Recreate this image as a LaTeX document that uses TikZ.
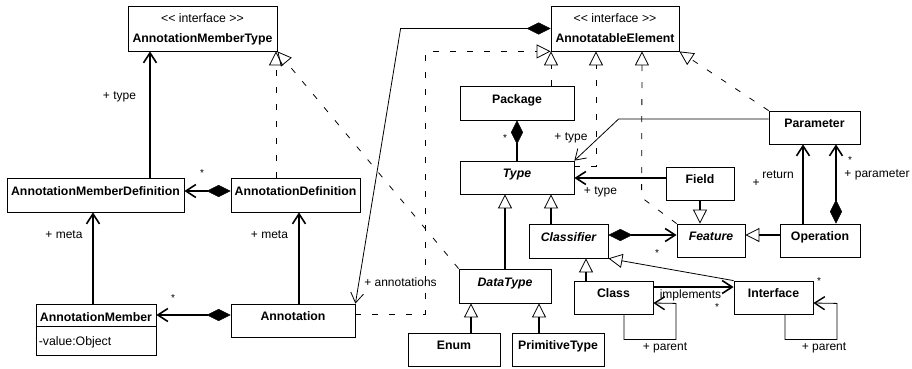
\documentclass[tikz,border=0pt]{standalone}
\usepackage{fontspec}
\setmainfont{Liberation Sans}
\usetikzlibrary{arrows.meta}

\tikzset{
  bx/.style={draw, line width=0.8pt, inner sep=0pt, text height=4pt, text depth=4pt,
    font=\fontsize{12.3}{14}\selectfont\bfseries},
  abs/.style={bx, font=\fontsize{12.3}{14}\selectfont\bfseries\itshape},
  plainbx/.style={draw, line width=0.8pt, inner sep=0pt},
  txt/.style={inner sep=0pt, font=\fontsize{12.3}{14}\selectfont},
  lbl/.style={inner sep=0pt, font=\fontsize{12}{14}\selectfont},
  star/.style={inner sep=0pt, font=\fontsize{10}{12}\selectfont},
  thk/.style={line width=1.6pt},
  thn/.style={line width=0.8pt},
  assoc/.style={thk, -{Straight Barb[length=10pt,width=13pt]}},
  assocthin/.style={thn, -{Straight Barb[length=10pt,width=13pt]}},
  comp/.style={thk, {Diamond[length=24pt,width=12pt,line width=0.4pt]}-{Straight Barb[length=10pt,width=13pt]}},
  compthin/.style={thn, {Diamond[length=24pt,width=12pt,line width=0.4pt]}-{Straight Barb[length=10pt,width=13pt]}},
  owner/.style={thk, {Diamond[length=24pt,width=12pt,line width=0.4pt]}-},
  gen/.style={thk, -{Triangle[open,length=14pt,width=14pt,line width=0.8pt]}},
  genthin/.style={thn, -{Triangle[open,length=14pt,width=14pt,line width=0.8pt]}},
  real/.style={thn, dash pattern=on 6pt off 11pt, -{Triangle[open,length=14pt,width=14pt,line width=0.8pt]}},
}

\begin{document}
\begin{tikzpicture}[x=1pt,y=-1pt]
\useasboundingbox (0,0) rectangle (912,368);

% ---- interfaces ----
\node[plainbx, minimum width=149pt, minimum height=45pt] (amt) at (202.5,28.5) {};
\node[txt, anchor=base] (amtS) at ([yshift=-17pt]amt.north) {<\kern0pt< interface >\kern0pt>};
\node[txt, anchor=base, font=\fontsize{12.3}{14}\selectfont\bfseries] (amtN) at ([yshift=-36.5pt]amt.north) {AnnotationMemberType};

\node[plainbx, minimum width=128pt, minimum height=45pt] (ae) at (615,28.5) {};
\node[txt, anchor=base] (aeS) at ([yshift=-17pt]ae.north) {<\kern0pt< interface >\kern0pt>};
\node[txt, anchor=base, font=\fontsize{12.3}{14}\selectfont\bfseries] (aeN) at ([yshift=-36.5pt]ae.north) {AnnotatableElement};

% ---- annotation side ----
\node[bx, minimum width=177pt, minimum height=34pt] (amd) at (95.5,195) {AnnotationMemberDefinition};
\node[bx, minimum width=129pt, minimum height=34pt] (ad) at (295.5,195) {AnnotationDefinition};
\node[plainbx, minimum width=120pt, minimum height=51pt] (am) at (96,329.5) {};
\node[txt, anchor=base, font=\fontsize{12.3}{14}\selectfont\bfseries] (amN) at ([yshift=-17.5pt]am.north) {AnnotationMember};
\draw[thn] ([yshift=-23pt]am.north west) -- ([yshift=-23pt]am.north east);
\node[txt, anchor=base west] (amA) at ([xshift=3pt,yshift=-42pt]am.north west) {-value:Object};
\node[bx, minimum width=124pt, minimum height=33pt] (an) at (293,320.5) {Annotation};

% ---- type side ----
\node[bx, minimum width=114pt, minimum height=34pt] (pkg) at (517,103) {Package};
\node[abs, minimum width=114pt, minimum height=33pt] (type) at (517,177.5) {Type};
\node[bx, minimum width=91pt, minimum height=33pt] (param) at (814.5,127.5) {Parameter};
\node[bx, minimum width=68pt, minimum height=33pt] (field) at (700,183.5) {Field};
\node[abs, minimum width=92pt, minimum height=34pt] (dt) at (505,286) {DataType};
\node[abs, minimum width=79pt, minimum height=34pt] (cls) at (568.5,241) {Classifier};
\node[abs, minimum width=68pt, minimum height=33pt] (feat) at (711,240.5) {Feature};
\node[bx, minimum width=80pt, minimum height=33pt] (op) at (820,240.5) {Operation};
\node[bx, minimum width=79pt, minimum height=33pt] (class) at (613.5,297.5) {Class};
\node[bx, minimum width=79pt, minimum height=33pt] (iface) at (773.5,297.5) {Interface};
\node[bx, minimum width=92pt, minimum height=33pt] (enum) at (454,349.5) {Enum};
\node[bx, minimum width=92pt, minimum height=33pt] (prim) at (558,349.5) {PrimitiveType};

% ---- realizations (dashed) ----
\draw[real] ([xshift=-19.5pt]ad.north) -- ([xshift=73.5pt]amt.south);
\draw[real] (dt.north west) -- (amt.south east);
\draw[real] ([yshift=6.5pt]an.east) -- ++(70,0) |- (ae.south west);
\draw[real] ([xshift=34pt]pkg.north) -- ([xshift=-64pt]ae.south);
\draw[real] ([yshift=11.5pt]type.east) -| ([xshift=-19pt]ae.south);
\draw[real] (feat.north west) -- ++(-35,-26) -- ([xshift=27pt]ae.south);
\draw[real] (param.north west) -- (ae.south east);

% ---- annotation associations ----
\draw[assoc] ([xshift=54.5pt]amd.north) -- ([xshift=-52.5pt]amt.south);
\draw[comp] ([yshift=4pt]ad.west) -- ([yshift=4pt]amd.east);
\draw[assoc] ([xshift=-3pt]am.north) -- ([xshift=-2.5pt]amd.south);
\draw[assoc] ([xshift=6pt]an.north) -- ([xshift=3.5pt]ad.south);
\draw[comp] ([yshift=5.5pt]an.west) -- ([yshift=14.5pt]am.east);
\draw[compthin] (ae.west) -- ([xshift=-150pt]ae.west) -- (an.north east);

% ---- type associations ----
\draw[owner] (pkg.south) -- (type.north);
\draw[assocthin] ([yshift=8.5pt]param.west) -- ++(-150,0) -- (type.north east);
\draw[assoc] ([yshift=5.5pt]field.west) -- ([yshift=-0.5pt]type.east);
\draw[gen] (dt.north) -- ([xshift=-12pt]type.south);
\draw[gen] ([xshift=-17.5pt]cls.north) -- ([xshift=34pt]type.south);
\draw[comp] ([yshift=6pt]cls.east) -- ([yshift=5.5pt]feat.west);
\draw[gen] ([yshift=5.5pt]op.west) -- ([yshift=5.5pt]feat.east);
\draw[gen] (field.south) -- ([xshift=-11pt]feat.north);
\draw[assoc] ([xshift=-17pt]op.north) -- ([xshift=-11.5pt]param.south);
\draw[comp] ([xshift=16pt]op.north) -- ([xshift=21.5pt]param.south);
\draw[gen] ([xshift=-27.5pt]class.north) -- ([xshift=17.5pt]cls.south);
\draw[genthin] (iface.north west) -- (cls.south east);
\draw[assoc] ([yshift=10.5pt]class.east) -- ([yshift=10.5pt]iface.west);
\draw[thn, -{Straight Barb[length=10pt,width=13pt,line width=1.4pt]}]
  ([xshift=10.5pt]class.south) -- ++(0,25) -- ++(52,0) -- ++(0,-36) -- ([yshift=-5.5pt]class.east);
\draw[thn, -{Straight Barb[length=10pt,width=13pt,line width=1.4pt]}]
  ([xshift=11.5pt]iface.south) -- ++(0,25) -- ++(52,0) -- ++(0,-36) -- ([yshift=-5.5pt]iface.east);
\draw[gen] ([xshift=17pt]enum.north) -- ([xshift=-34pt]dt.south);
\draw[gen] ([xshift=-19pt]prim.north) -- ([xshift=34pt]dt.south);

% ---- labels ----
\node[lbl] (l1) at (119.5,97) {+ type};
\node[star] (s1) at (202,173) {*};
\node[lbl] (l2) at (64,235) {+ meta};
\node[lbl] (l3) at (269.5,235) {+ meta};
\node[star] (s2) at (173,298) {*};
\node[lbl] (l4) at (400.5,282) {+ annotations};
\node[star] (s3) at (505,138) {*};
\node[lbl] (l5) at (571,138) {+ type};
\node[lbl] (l6) at (600.5,192) {+ type};
\node[star] (s4) at (657,253) {*};
\node[lbl] (l7) at (756,183) {+};
\node[lbl] (l8) at (778,175) {return};
\node[star] (s5) at (850,160) {*};
\node[lbl] (l9) at (877,175) {+ parameter};
\node[lbl] (l10) at (690.5,295) {implements};
\node[star] (s6) at (717,307) {*};
\node[star] (s7) at (819,281) {*};
\node[lbl] (l11) at (665,348) {+ parent};
\node[lbl] (l12) at (824,348) {+ parent};
\end{tikzpicture}
\end{document}
